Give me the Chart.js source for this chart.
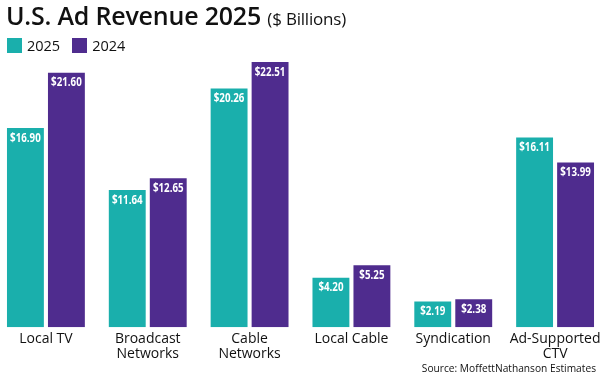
<!DOCTYPE html>
<html><head><meta charset="utf-8">
<script src="https://cdn.jsdelivr.net/npm/chart.js@4"></script>
<style>
html,body{margin:0;padding:0;background:#fff;width:600px;height:375px;overflow:hidden;position:relative;font-family:"Open Sans",sans-serif;color:#111;}
#title{position:absolute;left:6px;top:-2px;font-size:25px;font-weight:600;white-space:nowrap;letter-spacing:-0.2px}
#title span{font-size:17px;font-weight:400}
#legend{position:absolute;left:7px;top:36px;font-size:14.5px;display:flex;align-items:center}
#legend .sw{display:inline-block;width:15px;height:15px;margin-right:5px}
#legend .it{display:flex;align-items:center;margin-right:12px}
#source{position:absolute;right:4px;top:361px;font-size:10.2px;white-space:nowrap}
#wrap{position:absolute;left:-6px;top:0;width:614px;height:375px}
</style></head><body>
<div id="wrap"><canvas id="c" width="614" height="375"></canvas></div>
<div id="title">U.S. Ad Revenue 2025 <span>($ Billions)</span></div>
<div id="legend"><div class="it"><span class="sw" style="background:#1aafac"></span>2025</div><div class="it"><span class="sw" style="background:#4f2c8e"></span>2024</div></div>
<div id="source">Source: MoffettNathanson Estimates</div>
<script>
const categories = [["Local TV"], ["Broadcast", "Networks"], ["Cable", "Networks"], ["Local Cable"], ["Syndication"], ["Ad-Supported", "CTV"]];
const values2025 = [16.90, 11.64, 20.26, 4.20, 2.19, 16.11];
const values2024 = [21.60, 12.65, 22.51, 5.25, 2.38, 13.99];
const seriesNames = ["2025", "2024"];
const colors = ["#1aafac", "#4f2c8e"];

const valueLabels = {
  id: 'valueLabels',
  afterDatasetsDraw(chart) {
    const ctx = chart.ctx;
    chart.data.datasets.forEach((ds, i) => {
      chart.getDatasetMeta(i).data.forEach((bar, j) => {
        ctx.save();
        ctx.fillStyle = '#ffffff';
        ctx.font = 'bold 12.5px "Open Sans", sans-serif';
        ctx.textAlign = 'center';
        ctx.textBaseline = 'middle';
        ctx.translate(bar.x, bar.y + 10);
        ctx.scale(0.78, 1);
        ctx.fillText('$' + ds.data[j].toFixed(2), 0, 0);
        ctx.restore();
      });
    });
  }
};

new Chart(document.getElementById('c'), {
  type: 'bar',
  data: {
    labels: categories,
    datasets: [
      {label: seriesNames[0], data: values2025, backgroundColor: colors[0]},
      {label: seriesNames[1], data: values2024, backgroundColor: colors[1]}
    ]
  },
  options: {
    responsive: false,
    animation: false,
    devicePixelRatio: 1,
    categoryPercentage: 0.805,
    barPercentage: 0.9,
    layout: {padding: {left: 1, right: 2, top: 62, bottom: 9}},
    plugins: {legend: {display: false}, title: {display: false}, tooltip: {enabled: false}},
    scales: {
      y: {display: false, min: 0, max: 22.51},
      x: {
        grid: {display: false, drawTicks: false}, border: {display: false},
        ticks: {color: '#111', padding: 4, font: {family: '"Open Sans"', size: 14, lineHeight: 1.1}, maxRotation: 0, autoSkip: false}
      }
    }
  },
  plugins: [valueLabels]
});
</script>
</body></html>
